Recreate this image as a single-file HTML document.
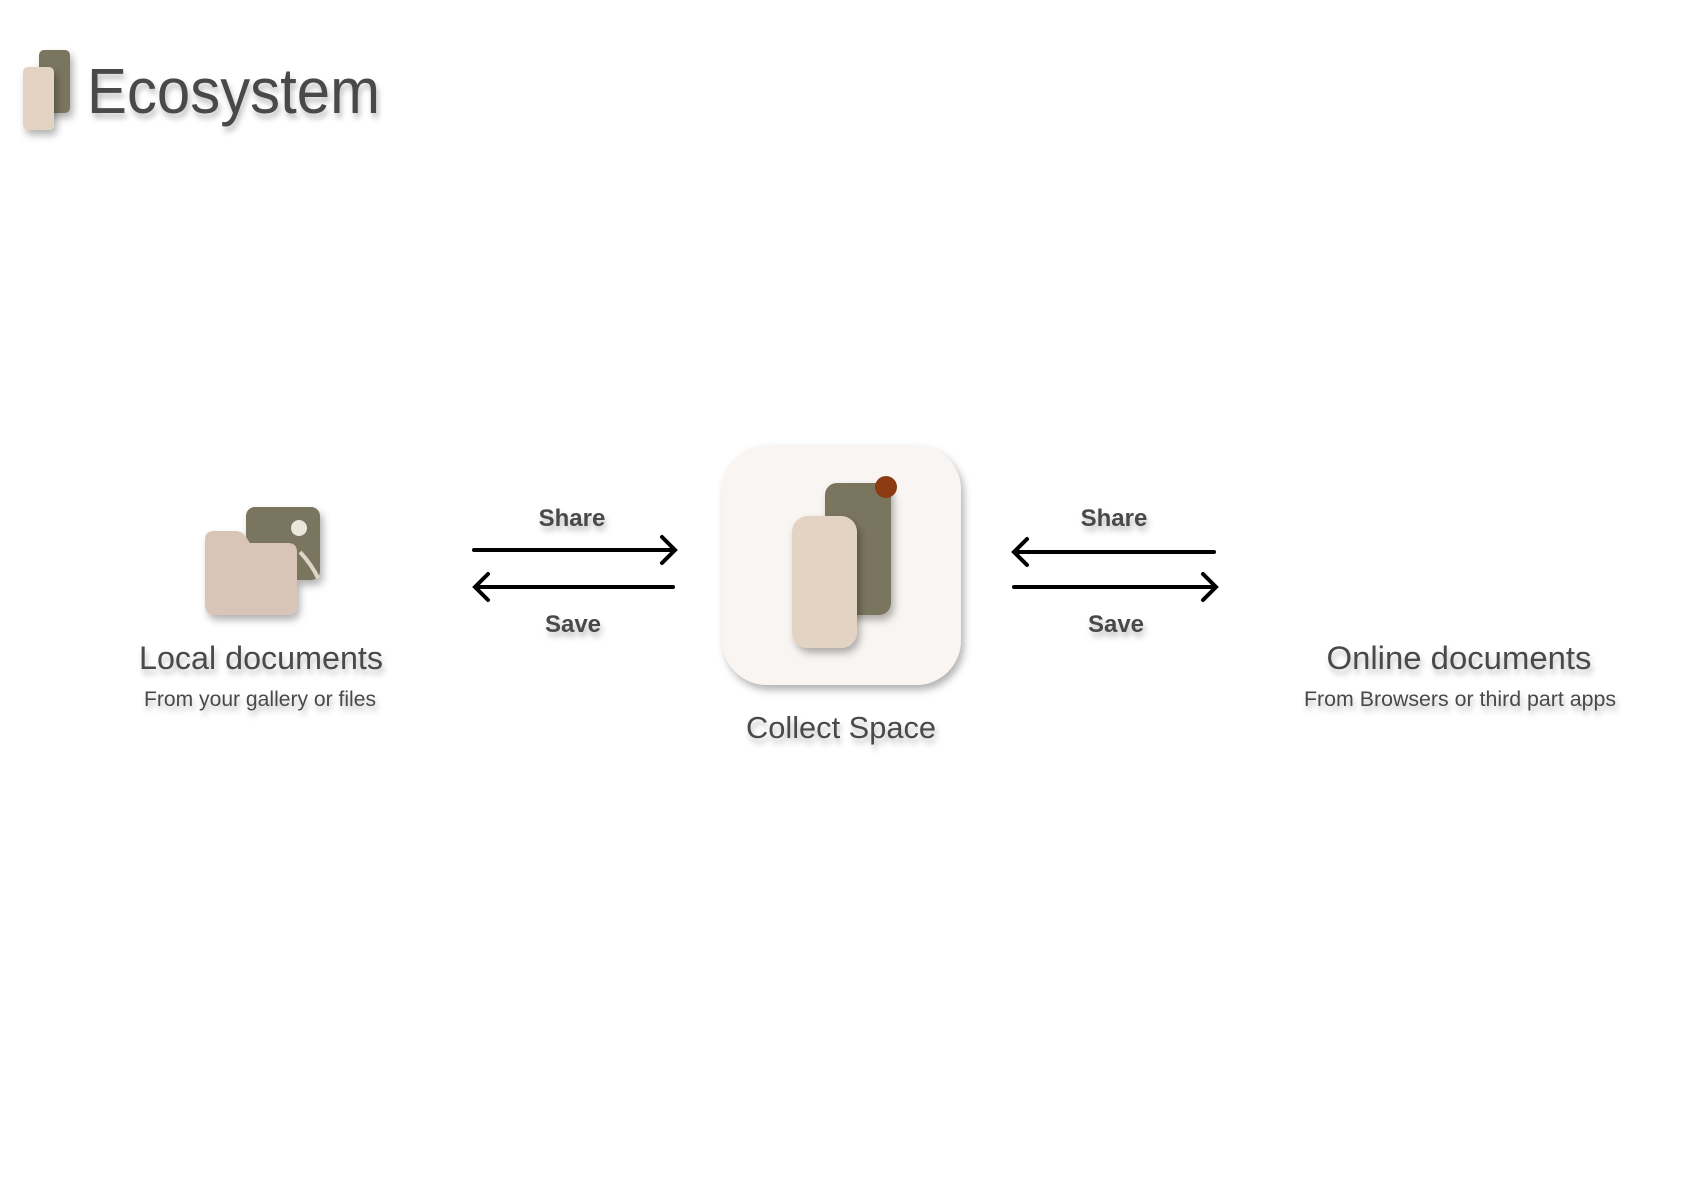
<!DOCTYPE html>
<html><head><meta charset="utf-8"><style>
html,body{margin:0;padding:0;background:#fff;}
svg{display:block;}
text{font-family:"Liberation Sans","DejaVu Sans",sans-serif;fill:#4a4a4a;}
</style></head><body>
<svg width="1684" height="1190" viewBox="0 0 1684 1190" xmlns="http://www.w3.org/2000/svg">
<defs>
<filter id="sh" x="-20%" y="-20%" width="150%" height="160%">
<feDropShadow dx="3" dy="5" stdDeviation="4" flood-color="#000" flood-opacity="0.3"/>
</filter>
<filter id="ts" x="-10%" y="-30%" width="120%" height="180%">
<feDropShadow dx="2" dy="5" stdDeviation="3" flood-color="#000" flood-opacity="0.25"/>
</filter>
</defs>
<!-- title -->
<rect x="39" y="50" width="31" height="63" rx="5" fill="#7a745e" filter="url(#sh)"/>
<rect x="23" y="67" width="31" height="63" rx="5" fill="#e2d3c2" filter="url(#sh)"/>
<text x="87" y="113" font-size="64" textLength="293" lengthAdjust="spacingAndGlyphs" filter="url(#ts)">Ecosystem</text>

<!-- local icon -->
<g filter="url(#sh)">
<rect x="246" y="507" width="74" height="73" rx="9" fill="#7a745e"/>
<circle cx="299" cy="528" r="8" fill="#ece6dc"/>
<path d="M300 552 Q312 565 318 578" stroke="#ddd5c9" stroke-width="4" fill="none"/>
<path d="M214 531 H236 Q242 531 246 537 L250 543 H288 Q297 543 297 552 V605 Q297 615 287 615 H215 Q205 615 205 605 V540 Q205 531 214 531 Z" fill="#d8c5b8"/>
</g>
<text x="261" y="669" font-size="32" text-anchor="middle" textLength="244" lengthAdjust="spacingAndGlyphs" filter="url(#ts)">Local documents</text>
<text x="260" y="706" font-size="21" text-anchor="middle" textLength="232" lengthAdjust="spacingAndGlyphs" filter="url(#ts)">From your gallery or files</text>

<!-- arrows -->
<g stroke="#000" stroke-width="4" fill="none" stroke-linecap="round">
<line x1="474" y1="550" x2="674" y2="550"/><polyline points="662,537 675,550 662,563"/>
<line x1="476" y1="587" x2="673" y2="587"/><polyline points="488,574 475,587 488,600"/>
<line x1="1015" y1="552" x2="1214" y2="552"/><polyline points="1027,539 1014,552 1027,565"/>
<line x1="1014" y1="587" x2="1215" y2="587"/><polyline points="1203,574 1216,587 1203,600"/>
</g>
<text x="572" y="526" font-size="24" font-weight="bold" text-anchor="middle" filter="url(#ts)">Share</text>
<text x="573" y="632" font-size="24" font-weight="bold" text-anchor="middle" filter="url(#ts)">Save</text>
<text x="1114" y="526" font-size="24" font-weight="bold" text-anchor="middle" filter="url(#ts)">Share</text>
<text x="1116" y="632" font-size="24" font-weight="bold" text-anchor="middle" filter="url(#ts)">Save</text>

<!-- app icon -->
<rect x="722" y="445" width="239" height="240" rx="45" fill="#f8f5f2" filter="url(#sh)"/>
<rect x="825" y="483" width="66" height="132" rx="12" fill="#7a745e" filter="url(#sh)"/>
<circle cx="886" cy="487" r="11" fill="#8b3a12"/>
<rect x="792" y="516" width="65" height="132" rx="16" fill="#e2d3c2" filter="url(#sh)"/>
<text x="841" y="738" font-size="31" text-anchor="middle" textLength="190" lengthAdjust="spacingAndGlyphs" filter="url(#ts)">Collect Space</text>

<text x="1459" y="669" font-size="32" text-anchor="middle" textLength="265" lengthAdjust="spacingAndGlyphs" filter="url(#ts)">Online documents</text>
<text x="1460" y="706" font-size="21" text-anchor="middle" textLength="312" lengthAdjust="spacingAndGlyphs" filter="url(#ts)">From Browsers or third part apps</text>
</svg>
</body></html>
